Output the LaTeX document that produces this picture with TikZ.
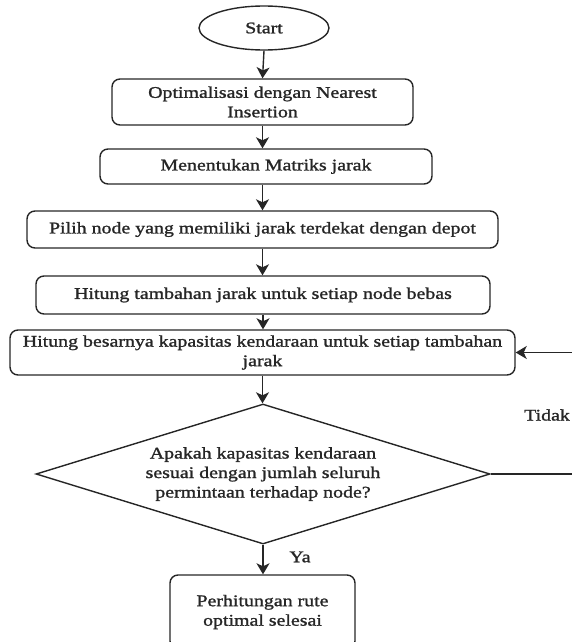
\documentclass[tikz,border=0pt]{standalone}
\usepackage{fontspec}
\setmainfont{Liberation Serif}[FakeStretch=1.22,FakeBold=1.3]
\usetikzlibrary{shapes.geometric,arrows.meta}
\begin{document}
\begin{tikzpicture}[x=1pt,y=-1pt,
  line width=1.4pt,
  every node/.style={font=\fontsize{16.3}{19.5}\selectfont, text=black!85},
  proc/.style={draw=black!85, rounded corners=8pt, align=center, inner sep=0pt},
  arr/.style={draw=black!85, -{Stealth[length=11pt,width=13pt,inset=3pt]}},
  ln/.style={draw=black!85}]
\useasboundingbox (0,0) rectangle (571,642);
\node[draw=black!85, ellipse, minimum width=130pt, minimum height=44pt, inner sep=0pt] (start) at (264,28) {Start};
\node[proc, minimum width=301pt, minimum height=46pt] (b1) at (262.5,102) {Optimalisasi dengan Nearest\\Insertion};
\node[proc, minimum width=332pt, minimum height=35pt] (b2) at (266,166.5) {Menentukan Matriks jarak};
\node[proc, minimum width=471pt, minimum height=37pt] (b3) at (262.5,229.5) {Pilih node yang memiliki jarak terdekat dengan depot};
\node[proc, minimum width=454pt, minimum height=38pt] (b4) at (263,295) {Hitung tambahan jarak untuk setiap node bebas};
\node[proc, minimum width=505pt, minimum height=45pt] (b5) at (262.5,352.5) {Hitung besarnya kapasitas kendaraan untuk setiap tambahan\\jarak};
\node[draw=black!85, diamond, shape aspect=3.24, minimum width=454pt, minimum height=140pt, inner sep=0pt, align=center] (d) at (263,474) {\\[-8pt]Apakah kapasitas kendaraan\\sesuai dengan jumlah seluruh\\permintaan terhadap node?};
\node[proc, minimum width=185pt, minimum height=74pt] (b6) at (262.5,612) {Perhitungan rute\\optimal selesai};
\node (ya) at (300,557) {Ya};
\node (tidak) at (547,415) {Tidak};
\coordinate (r1) at (585,474);
\coordinate (r2) at (585,352.5);
\draw[arr] (start.south) -- (b1.north);
\draw[arr] (b1.south) -- (b1.south |- b2.north);
\draw[arr] (b1.south |- b2.south) -- (b1.south |- b3.north);
\draw[arr] (b3.south) -- (b3.south |- b4.north);
\draw[arr] (b4.south) -- (b4.south |- b5.north);
\draw[arr] (b5.south) -- (b5.south |- d.north);
\draw[arr] (d.south) -- (d.south |- b6.north);
\draw[ln] (d.east) -- (r1) -- (r2);
\draw[arr] (r2) -- (b5.east);
\end{tikzpicture}
\end{document}
